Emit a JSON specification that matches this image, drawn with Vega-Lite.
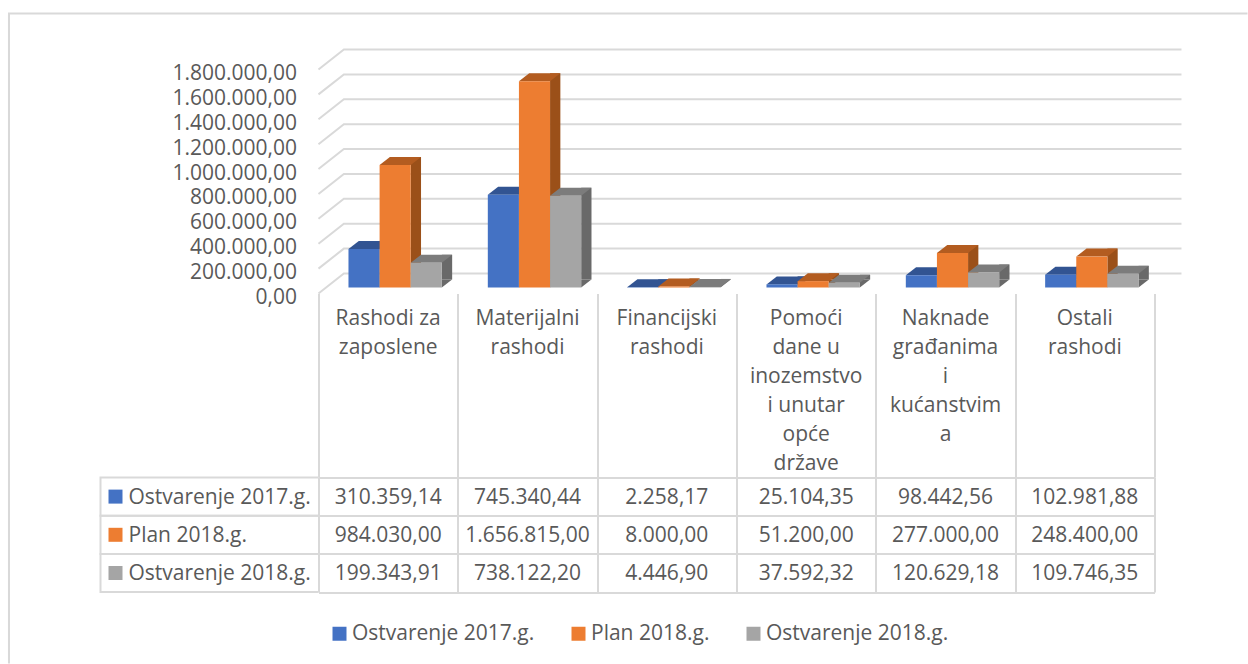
{
"$schema":"https://vega.github.io/schema/vega-lite/v6.json",
"padding":{"left":4.5,"top":9.5,"right":0,"bottom":0},
"background":"white",
"config":{"view":{"stroke":null},"font":"Open Sans","axis":{"labelOverlap":false},"axisY":{"labelOverlap":false},"axisQuantitative":{"labelOverlap":false},"locale":{"number":{"decimal":",","thousands":".","grouping":[3],"currency":["",""]}}},
"datasets":{
"rows":[
{"category":"Rashodi za zaposlene","series":"Ostvarenje 2017.g.","value":310359.14},
{"category":"Rashodi za zaposlene","series":"Plan 2018.g.","value":984030},
{"category":"Rashodi za zaposlene","series":"Ostvarenje 2018.g.","value":199343.91},
{"category":"Materijalni rashodi","series":"Ostvarenje 2017.g.","value":745340.44},
{"category":"Materijalni rashodi","series":"Plan 2018.g.","value":1656815},
{"category":"Materijalni rashodi","series":"Ostvarenje 2018.g.","value":738122.2},
{"category":"Financijski rashodi","series":"Ostvarenje 2017.g.","value":2258.17},
{"category":"Financijski rashodi","series":"Plan 2018.g.","value":8000},
{"category":"Financijski rashodi","series":"Ostvarenje 2018.g.","value":4446.9},
{"category":"Pomoći dane u inozemstvo i unutar opće države","series":"Ostvarenje 2017.g.","value":25104.35},
{"category":"Pomoći dane u inozemstvo i unutar opće države","series":"Plan 2018.g.","value":51200},
{"category":"Pomoći dane u inozemstvo i unutar opće države","series":"Ostvarenje 2018.g.","value":37592.32},
{"category":"Naknade građanima i kućanstvima","series":"Ostvarenje 2017.g.","value":98442.56},
{"category":"Naknade građanima i kućanstvima","series":"Plan 2018.g.","value":277000},
{"category":"Naknade građanima i kućanstvima","series":"Ostvarenje 2018.g.","value":120629.18},
{"category":"Ostali rashodi","series":"Ostvarenje 2017.g.","value":102981.88},
{"category":"Ostali rashodi","series":"Plan 2018.g.","value":248400},
{"category":"Ostali rashodi","series":"Ostvarenje 2018.g.","value":109746.35}
],
"ticks":[{"tick":0},{"tick":200000},{"tick":400000},{"tick":600000},{"tick":800000},{"tick":1000000},{"tick":1200000},{"tick":1400000},{"tick":1600000},{"tick":1800000}],
"cats":[
{"category":"Rashodi za zaposlene","label":"Rashodi za\nzaposlene"},
{"category":"Materijalni rashodi","label":"Materijalni\nrashodi"},
{"category":"Financijski rashodi","label":"Financijski\nrashodi"},
{"category":"Pomoći dane u inozemstvo i unutar opće države","label":"Pomoći\ndane u\ninozemstvo\ni unutar\nopće\ndržave"},
{"category":"Naknade građanima i kućanstvima","label":"Naknade\ngrađanima\ni\nkućanstvim\na"},
{"category":"Ostali rashodi","label":"Ostali\nrashodi"}
],
"seriesList":[{"series":"Ostvarenje 2017.g."},{"series":"Plan 2018.g."},{"series":"Ostvarenje 2018.g."}]
},
"spacing":0,
"bounds":"flush",
"vconcat":[
{
"width":836,"height":230,
"data":{"name":"rows"},
"resolve":{"scale":{"fill":"independent","xOffset":"independent"}},
"encoding":{
"x":{"field":"category","type":"nominal","sort":null,"title":null,"axis":null,"scale":{"paddingInner":0.33,"paddingOuter":0.165,"align":0.652}}
},
"layer":[
{"data":{"name":"ticks"},
"mark":{"type":"point","shape":"M-30,6L-4.6,-14H833","size":4,"filled":false,"stroke":"#d9d9d9","strokeWidth":2,"opacity":1},
"encoding":{
"x":{"datum":"Rashodi za zaposlene","type":"nominal","bandPosition":0},
"y":{"field":"tick","type":"quantitative","title":null,"scale":{"domain":[0,1800000],"range":[224,0]},
"axis":{"values":[0,200000,400000,600000,800000,1000000,1200000,1400000,1600000,1800000],"format":",.2f","domain":false,"ticks":false,"grid":false,"labelPadding":22,"labelOffset":10,"labelFontSize":21,"labelColor":"#595959","labelFont":"Open Sans","labelOverlap":false,"labelBound":false,"labelSeparation":0}}}},
{"data":{"values":[{"frame":1}]},
"mark":{"type":"point","shape":"M-339.5,376V-274H899","size":4,"filled":false,"stroke":"#d9d9d9","strokeWidth":2,"opacity":1},
"encoding":{"x":{"datum":"Rashodi za zaposlene","type":"nominal","bandPosition":0},"y":{"datum":0,"type":"quantitative","title":null,"axis":{"values":[0,200000,400000,600000,800000,1000000,1200000,1400000,1600000,1800000],"format":",.2f","domain":false,"ticks":false,"grid":false,"labelPadding":22,"labelOffset":10,"labelFontSize":21,"labelColor":"#595959","labelFont":"Open Sans","labelOverlap":false,"labelBound":false,"labelSeparation":0}}}},
{"mark":{"type":"bar","width":10.3,"yOffset":-8,"opacity":1},
"encoding":{
"xOffset":{"field":"series","sort":null,"scale":{"range":[20.7,114.1]}},
"y":{"field":"value","type":"quantitative","title":null,"axis":{"values":[0,200000,400000,600000,800000,1000000,1200000,1400000,1600000,1800000],"format":",.2f","domain":false,"ticks":false,"grid":false,"labelPadding":22,"labelOffset":10,"labelFontSize":21,"labelColor":"#595959","labelFont":"Open Sans","labelOverlap":false,"labelBound":false,"labelSeparation":0}},
"fill":{"field":"series","sort":null,"legend":null,"scale":{"domain":["Ostvarenje 2017.g.","Plan 2018.g.","Ostvarenje 2018.g."],"range":["#2a4679","#9b5019","#696969"]}}}},
{"mark":{"type":"point","shape":"M15.55,0L25.85,-8L15.55,-8Z","size":4,"filled":true,"opacity":1},
"encoding":{
"xOffset":{"field":"series","sort":null},
"y":{"datum":0,"type":"quantitative","title":null,"axis":{"values":[0,200000,400000,600000,800000,1000000,1200000,1400000,1600000,1800000],"format":",.2f","domain":false,"ticks":false,"grid":false,"labelPadding":22,"labelOffset":10,"labelFontSize":21,"labelColor":"#595959","labelFont":"Open Sans","labelOverlap":false,"labelBound":false,"labelSeparation":0}},
"fill":{"field":"series","sort":null,"legend":null,"scale":{"domain":["Ostvarenje 2017.g.","Plan 2018.g.","Ostvarenje 2018.g."],"range":["#2a4679","#9b5019","#696969"]}}}},
{"mark":{"type":"point","shape":"M-15.55,0L15.55,0L25.85,-8L-5.25,-8Z","size":4,"filled":true,"opacity":1},
"encoding":{
"xOffset":{"field":"series","sort":null},
"y":{"field":"value","type":"quantitative","title":null,"axis":{"values":[0,200000,400000,600000,800000,1000000,1200000,1400000,1600000,1800000],"format":",.2f","domain":false,"ticks":false,"grid":false,"labelPadding":22,"labelOffset":10,"labelFontSize":21,"labelColor":"#595959","labelFont":"Open Sans","labelOverlap":false,"labelBound":false,"labelSeparation":0}},
"fill":{"field":"series","sort":null,"legend":null,"scale":{"domain":["Ostvarenje 2017.g.","Plan 2018.g.","Ostvarenje 2018.g."],"range":["#325492","#b35c20","#7c7c7c"]}}}},
{"mark":{"type":"bar"},
"encoding":{
"xOffset":{"field":"series","sort":null},
"y":{"field":"value","type":"quantitative","title":null,"axis":{"values":[0,200000,400000,600000,800000,1000000,1200000,1400000,1600000,1800000],"format":",.2f","domain":false,"ticks":false,"grid":false,"labelPadding":22,"labelOffset":10,"labelFontSize":21,"labelColor":"#595959","labelFont":"Open Sans","labelOverlap":false,"labelBound":false,"labelSeparation":0}},
"color":{"field":"series","sort":null,"title":null,
"scale":{"domain":["Ostvarenje 2017.g.","Plan 2018.g.","Ostvarenje 2018.g."],"range":["#4472c4","#ed7d31","#a5a5a5"]},
"legend":{"orient":"none","legendX":10.5,"legendY":559.5,"direction":"horizontal","symbolType":"square","symbolSize":196,"symbolStrokeWidth":0,"labelFontSize":21,"labelColor":"#595959","labelFont":"Open Sans","columnPadding":33,"labelOffset":2,"labelLimit":300}}}}
]
},
{
"width":836,"height":183.7,
"data":{"name":"cats"},
"mark":{"type":"text","baseline":"top","align":"center","fontSize":21,"lineHeight":29,"lineBreak":"\n","color":"#595959","yOffset":14},
"encoding":{
"x":{"field":"category","type":"nominal","sort":null,"title":null,"scale":{"padding":0},"axis":{"labels":false,"ticks":false,"domain":false,"grid":true,"tickBand":"extent","gridColor":"#d9d9d9","gridWidth":2}},
"y":{"datum":0,"type":"quantitative","scale":{"domain":[0,1],"range":[0,183.7]},"axis":null},
"text":{"field":"label"}
}
},
{
"width":836,"height":114.6,
"data":{"name":"rows"},
"encoding":{
"y":{"field":"series","type":"nominal","sort":null,"title":null,"scale":{"padding":0,"domain":["Ostvarenje 2017.g.","Plan 2018.g.","Ostvarenje 2018.g."]},"axis":{"labels":false,"ticks":false,"domain":false,"grid":true,"tickBand":"extent","gridColor":"#d9d9d9","gridWidth":2}},
"x":{"field":"category","type":"nominal","sort":null,"title":null,"scale":{"padding":0},"axis":{"labels":false,"ticks":false,"domain":false,"grid":true,"tickBand":"extent","gridColor":"#d9d9d9","gridWidth":2}}
},
"layer":[
{"data":{"name":"seriesList"},
"mark":{"type":"point","shape":"M0,-19.1H-218V19.1H0","size":4,"filled":false,"stroke":"#d9d9d9","strokeWidth":2,"opacity":1},
"encoding":{"x":{"datum":"Rashodi za zaposlene","type":"nominal","bandPosition":0}}},
{"data":{"name":"seriesList"},
"mark":{"type":"point","shape":"square","size":196,"filled":true,"xOffset":-203,"opacity":1},
"encoding":{"x":{"datum":"Rashodi za zaposlene","type":"nominal","bandPosition":0},
"color":{"field":"series","sort":null,"legend":null,"scale":{"domain":["Ostvarenje 2017.g.","Plan 2018.g.","Ostvarenje 2018.g."],"range":["#4472c4","#ed7d31","#a5a5a5"]}}}},
{"data":{"name":"seriesList"},
"mark":{"type":"text","align":"left","baseline":"middle","fontSize":21,"color":"#595959","xOffset":-190,"yOffset":1},
"encoding":{"x":{"datum":"Rashodi za zaposlene","type":"nominal","bandPosition":0},"text":{"field":"series"}}},
{"mark":{"type":"text","align":"center","baseline":"middle","fontSize":21,"color":"#595959","yOffset":1},
"encoding":{"text":{"field":"value","type":"quantitative","format":",.2f"}}}
]
}
]
}
